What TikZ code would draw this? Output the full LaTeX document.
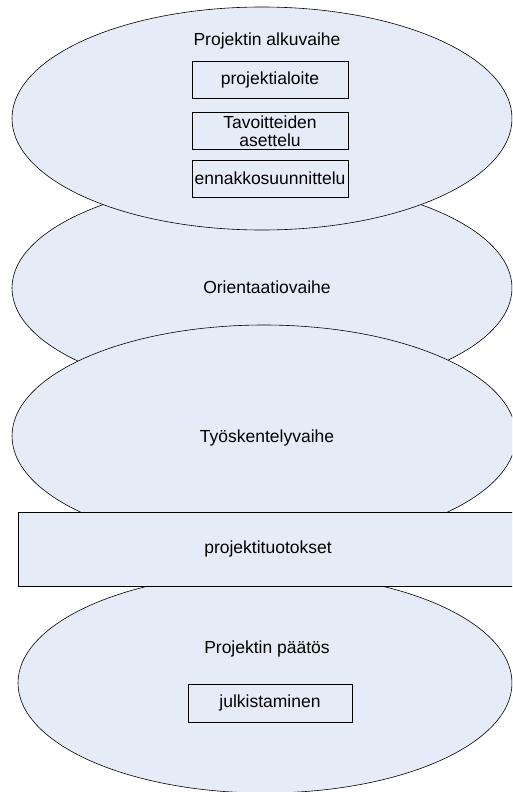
\documentclass[tikz,border=0pt]{standalone}
\usepackage{fontspec}
\setmainfont{Liberation Sans}
\usetikzlibrary{shapes.geometric}
\definecolor{phasefill}{RGB}{230,236,247}

\begin{document}
\begin{tikzpicture}[x=1pt, y=-1pt,
    font=\fontsize{17.5}{18}\selectfont,
    phase/.style={ellipse, draw, fill=phasefill, line width=0.6pt, inner sep=0pt},
    taskbox/.style={rectangle, draw, fill=phasefill, line width=0.6pt,
      minimum width=156pt, minimum height=37pt, inner sep=0pt, align=center},
    phasetext/.style={anchor=base}
  ]
    \useasboundingbox (0,0) rectangle (512,792);
    \clip (0,0) rectangle (512,792);

    % Define phase sizes
    \def\phasewidth{500pt}

    % Draw phase ellipses, back to front
    \node[phase, minimum width=\phasewidth, minimum height=216pt] (orient) at (262,288) {};
    \node[phase, minimum width=\phasewidth, minimum height=223pt] (alku) at (262,118.5) {};
    \node[phase, minimum width=504pt, minimum height=222pt] (tyo) at (264,436) {};
    \node[phase, minimum width=494pt, minimum height=220pt] (paatos) at (265,683) {};

    % Draw the outputs bar
    \node[rectangle, draw, fill=phasefill, line width=0.6pt, minimum width=500pt,
      minimum height=74pt, inner sep=0pt] (tuotokset) at (268,549) {projektituotokset};

    % Draw phase titles
    \node[phasetext] (alkutitle) at (267,46) {Projektin alkuvaihe};
    \node[phasetext] (orienttitle) at (267,293) {Orientaatiovaihe};
    \node[phasetext] (tyotitle) at (267,442) {Työskentelyvaihe};
    \node[phasetext] (paatostitle) at (267,653) {Projektin päätös};

    % Draw task boxes of the first phase
    \foreach \name/\ypos/\task in {aloite/79.5/projektialoite,
        tavoite/131/{Tavoitteiden\\asettelu},
        ennakko/178.5/ennakkosuunnittelu} {
        \node[taskbox] (\name) at (270,\ypos) {\task};
    }

    % Draw task box of the closing phase
    \node[taskbox, minimum width=164pt, minimum height=38pt] (julkistus) at (270,703) {julkistaminen};

\end{tikzpicture}
\end{document}
